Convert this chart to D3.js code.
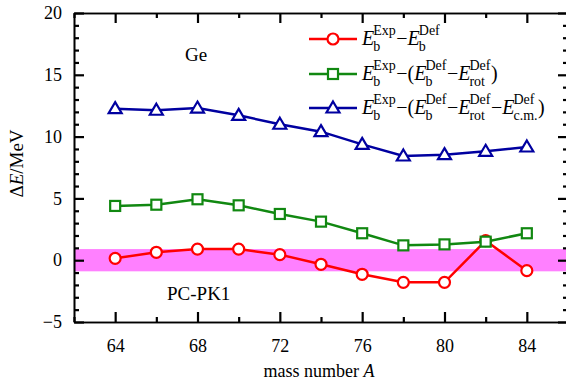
<!DOCTYPE html>
<html>
<head>
<meta charset="utf-8">
<script src="https://cdn.jsdelivr.net/npm/d3@7"></script>
<style>
  body { margin: 0; background: #fff; }
  svg { display: block; font-family: "Liberation Serif", "DejaVu Serif", serif; }
  .tick text { font-size: 18px; fill: #000; font-family: "Liberation Serif", serif; }
  .domain { stroke: #000; stroke-width: 1.6; }
</style>
</head>
<body>
<svg id="chart" width="566" height="387"></svg>
<script>
var massNumbers = [64, 66, 68, 70, 72, 74, 76, 78, 80, 82, 84];
var diffDef = [0.15, 0.64, 0.9, 0.9, 0.45, -0.33, -1.14, -1.79, -1.79, 1.58, -0.85];
var diffRot = [4.39, 4.49, 4.93, 4.44, 3.74, 3.12, 2.18, 1.2, 1.28, 1.5, 2.18];
var diffCm = [12.26, 12.13, 12.31, 11.72, 11.0, 10.4, 9.37, 8.43, 8.54, 8.81, 9.16];
var xTicks = [64, 68, 72, 76, 80, 84];
var yTicks = [-5, 0, 5, 10, 15, 20];
var band = [-0.9, 0.9];

var margin = { top: 13, right: -2, bottom: 65, left: 74 };
var W = 566, H = 387;
var width = W - margin.left - margin.right;
var height = H - margin.top - margin.bottom;

var svg = d3.select("#chart").append("g")
  .attr("transform", "translate(" + margin.left + "," + margin.top + ")");

var x = d3.scaleLinear().domain([62, 86]).range([0, width]);
var y = d3.scaleLinear().domain([-5, 20]).range([height, 0]);

// band for PC-PK1 uncertainty
svg.append("rect")
  .attr("x", 0).attr("width", width)
  .attr("y", y(band[1])).attr("height", y(band[0]) - y(band[1]))
  .attr("fill", "#ff80ff");

// axes, ticks pointing inward
function minor(lo, hi, step) { return d3.range(lo, hi + 0.001, step); }
var xMinor = minor(62, 86, 2).filter(v => xTicks.indexOf(v) < 0);
var yMinor = minor(-5, 20, 1).filter(v => yTicks.indexOf(v) < 0);

svg.append("g").attr("transform", "translate(0," + height + ")")
  .call(d3.axisBottom(x).tickValues(xTicks).tickSizeInner(-10).tickSizeOuter(0).tickPadding(17));
svg.append("g").attr("transform", "translate(0," + height + ")")
  .call(d3.axisBottom(x).tickValues(xMinor).tickSizeInner(-5).tickSizeOuter(0).tickFormat(""));
svg.append("g")
  .call(d3.axisTop(x).tickValues(xTicks).tickSizeInner(-10).tickSizeOuter(0).tickFormat(""));
svg.append("g")
  .call(d3.axisTop(x).tickValues(xMinor).tickSizeInner(-5).tickSizeOuter(0).tickFormat(""));

svg.append("g")
  .call(d3.axisLeft(y).tickValues(yTicks).tickSizeInner(-10).tickSizeOuter(0).tickPadding(12)
    .tickFormat(d => d < 0 ? "\u2212" + Math.abs(d) : d));
svg.append("g")
  .call(d3.axisLeft(y).tickValues(yMinor).tickSizeInner(-5).tickSizeOuter(0).tickFormat(""));
svg.append("g").attr("transform", "translate(" + width + ",0)")
  .call(d3.axisRight(y).tickValues(yTicks).tickSizeInner(-10).tickSizeOuter(0).tickFormat(""));
svg.append("g").attr("transform", "translate(" + width + ",0)")
  .call(d3.axisRight(y).tickValues(yMinor).tickSizeInner(-5).tickSizeOuter(0).tickFormat(""));

svg.selectAll(".tick line").attr("stroke", "#000").attr("stroke-width", 2.2);

// series
var series = [
  { vals: diffDef, color: "#ff0000", shape: "circle" },
  { vals: diffRot, color: "#118811", shape: "square" },
  { vals: diffCm, color: "#0000a0", shape: "triangle" }
];

var line = d3.line().x(d => x(d[0])).y(d => y(d[1]));

function marker(g, shape, color, cx, cy) {
  var m;
  if (shape === "circle") {
    m = g.append("circle").attr("cx", cx).attr("cy", cy).attr("r", 5.5);
  } else if (shape === "square") {
    m = g.append("rect").attr("x", cx - 5).attr("y", cy - 5).attr("width", 10).attr("height", 10);
  } else {
    m = g.append("path").attr("d", "M" + cx + "," + (cy - 6.5) + "L" + (cx + 6.5) + "," + (cy + 4.5) + "L" + (cx - 6.5) + "," + (cy + 4.5) + "Z");
  }
  m.attr("fill", "#fff").attr("stroke", color).attr("stroke-width", 2.2);
}

series.forEach(function(s) {
  var pts = massNumbers.map((m, i) => [m, s.vals[i]]);
  svg.append("path").datum(pts)
    .attr("d", line).attr("fill", "none")
    .attr("stroke", s.color).attr("stroke-width", 2.5);
  var mg = svg.append("g");
  pts.forEach(p => marker(mg, s.shape, s.color, x(p[0]), y(p[1])));
});

// legend
var legY = [26, 61, 95];
var legX = 235;
var labels = [
  [["E","b","Exp"], "\u2212", ["E","b","Def"]],
  [["E","b","Exp"], "\u2212(", ["E","b","Def"], "\u2212", ["E","rot","Def"], ")"],
  [["E","b","Exp"], "\u2212(", ["E","b","Def"], "\u2212", ["E","rot","Def"], "\u2212", ["E","c.m.","Def"], ")"]
];

// lay out a label piece by piece, measuring each piece
function putText(g, str, px, py, size, italic) {
  var t = g.append("text").attr("x", px).attr("y", py).attr("font-size", size).text(str);
  if (italic) t.attr("font-style", "italic");
  return t.node().getComputedTextLength();
}

series.forEach(function(s, i) {
  var g = svg.append("g");
  var ly = legY[i];
  g.append("line").attr("x1", legX).attr("x2", legX + 48)
    .attr("y1", ly).attr("y2", ly)
    .attr("stroke", s.color).attr("stroke-width", 2.5);
  marker(g, s.shape, s.color, legX + 24, ly);

  var cx = legX + 53, base = ly + 6;
  labels[i].forEach(function(part) {
    if (typeof part === "string") {
      cx += putText(g, part, cx, base, 20, false);
    } else {
      cx += putText(g, part[0], cx, base, 20, true) - 1;
      var w1 = putText(g, part[1], cx, base + 6, 14, false);
      var w2 = putText(g, part[2], cx, base - 10, 14, false);
      cx += Math.max(w1, w2) + 0.5;
    }
  });
});

// annotations
svg.append("text").attr("x", 111).attr("y", 48).attr("font-size", 19).text("Ge");
svg.append("text").attr("x", 93).attr("y", 287).attr("font-size", 19).text("PC-PK1");

// axis titles
var xl = svg.append("text").attr("x", width / 2 - 2).attr("y", height + 55)
  .attr("text-anchor", "middle").attr("font-size", 18);
xl.append("tspan").text("mass number ");
xl.append("tspan").attr("font-style", "italic").text("A");

var yl = svg.append("text")
  .attr("transform", "translate(-51," + (height / 2 - 4) + ") rotate(-90)")
  .attr("text-anchor", "middle").attr("font-size", 19);
yl.append("tspan").text("\u0394");
yl.append("tspan").attr("font-style", "italic").text("E");
yl.append("tspan").text("/MeV");
</script>
</body>
</html>
